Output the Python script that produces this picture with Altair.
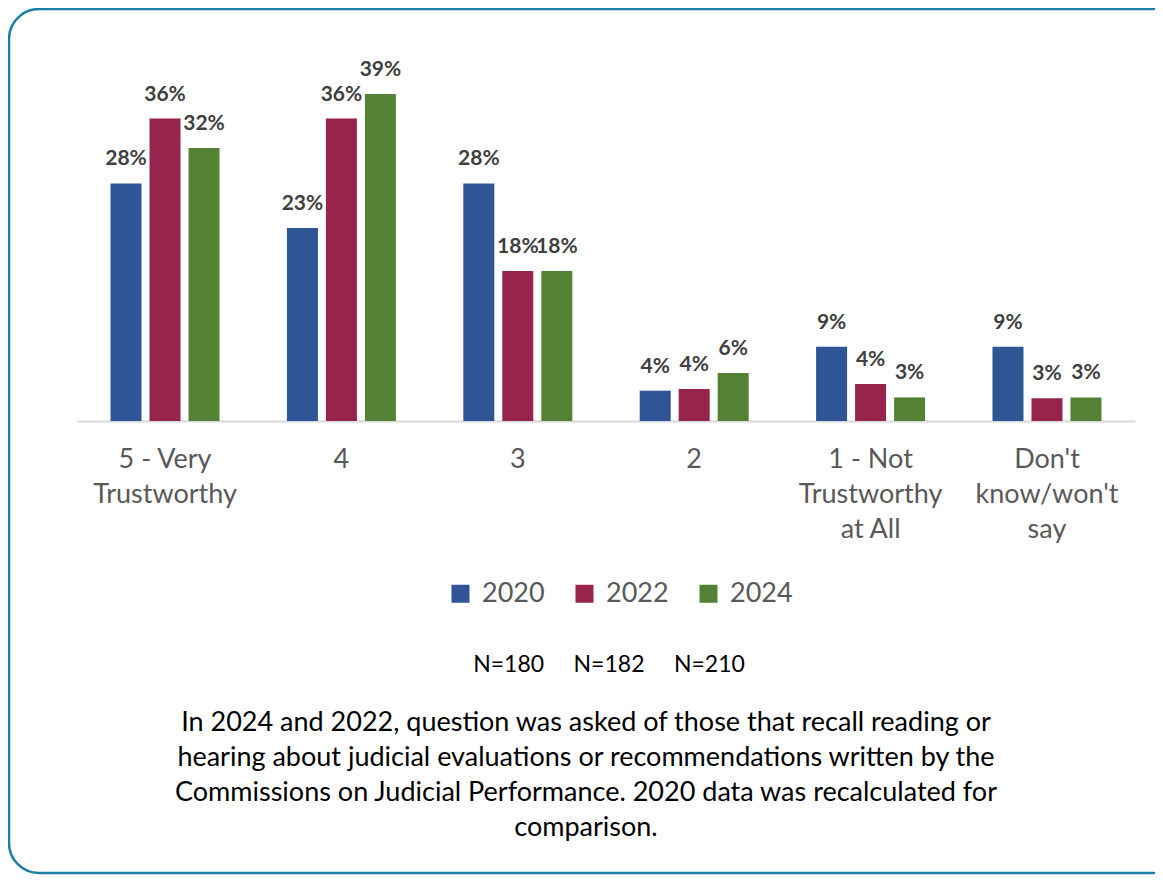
import altair as alt
import pandas as pd

categories = ["5 - Very|Trustworthy", "4", "3", "2", "1 - Not|Trustworthy|at All", "Don't|know/won't|say"]
years = ["2020", "2022", "2024"]
v2020 = [28.2, 22.9, 28.2, 3.6, 8.8, 8.8]
v2022 = [35.9, 35.9, 17.8, 3.8, 4.4, 2.7]
v2024 = [32.4, 38.8, 17.8, 5.7, 2.8, 2.8]
colors = ["#2F5597", "#96244C", "#548235"]
n_text = "N=180\u00a0\u00a0\u00a0\u00a0\u00a0N=182\u00a0\u00a0\u00a0\u00a0\u00a0N=210"
footnote = [
    "In 2024 and 2022, question was asked of those that recall reading or",
    "hearing about judicial evaluations or recommendations written by the",
    "Commissions on Judicial Performance. 2020 data was recalculated for",
    "comparison.",
]

rows = []
for yr, vals in zip(years, [v2020, v2022, v2024]):
    for c, v in zip(categories, vals):
        rows.append({"cat": c, "year": yr, "value": v, "label": f"{round(v)}%"})
df = pd.DataFrame(rows)

FONT = "Lato"

x_enc = alt.X("cat:N", sort=categories,
              scale=alt.Scale(paddingInner=0.382, paddingOuter=0.19),
              axis=alt.Axis(title=None, ticks=False, domainColor="#D9D9D9", domainWidth=2,
                            labelAngle=0, labelColor="#595959", labelFont=FONT, labelFontSize=27,
                            labelLineHeight=35, labelPadding=25, labelBaseline="top", labelLimit=0,
                            labelExpr="split(datum.label, '|')"))
xoff = alt.XOffset("year:N", sort=years, scale=alt.Scale(paddingInner=0.205, paddingOuter=0))
y_enc = alt.Y("value:Q", scale=alt.Scale(domain=[0, 40], nice=False), axis=None)

bars = alt.Chart(df).mark_bar().encode(
    x=x_enc, xOffset=xoff, y=y_enc,
    color=alt.Color("year:N", sort=years, scale=alt.Scale(domain=years, range=colors),
                    legend=alt.Legend(title=None, orient="none", direction="horizontal",
                                      legendX=370, legendY=496, symbolType="square",
                                      symbolSize=324, symbolStrokeWidth=0, symbolOpacity=1,
                                      labelFont=FONT, labelFontSize=27, labelColor="#595959",
                                      labelOffset=8, columnPadding=26, padding=0)),
)

labels = alt.Chart(df).mark_text(font=FONT, fontSize=21, fontWeight="bold", color="#404040",
                                 baseline="alphabetic", dy=-18).encode(
    x=alt.X("cat:N", sort=categories), xOffset=alt.XOffset("year:N", sort=years), y=y_enc,
    text="label:N",
)

one = pd.DataFrame({"k": [0]})
border = alt.Chart(one).mark_rect(cornerRadius=30, fill="white", fillOpacity=0,
                                  stroke="#1A7FA6", strokeWidth=2.5).encode(
    x=alt.value(-68), x2=alt.value(1120), y=alt.value(-75), y2=alt.value(789))

ntxt = alt.Chart(one).mark_text(font=FONT, fontSize=23, color="#000000", baseline="middle",
                                align="center").encode(
    x=alt.value(532), y=alt.value(581), text=alt.value(n_text))

foot = alt.Chart(one).mark_text(font=FONT, fontSize=27, color="#000000", baseline="top",
                                align="center", lineHeight=35).encode(
    x=alt.value(509), y=alt.value(626), text=alt.value(footnote))

chart = alt.layer(border, bars, labels, ntxt, foot).properties(
    width=1058, height=337,
    background="white",
    autosize=alt.AutoSizeParams(type="none"),
    padding={"left": 69, "top": 76, "right": 20, "bottom": 454},
).configure_view(stroke=None, strokeWidth=0)

chart.save("out.html", embed_options={"renderer": "svg", "actions": False})
